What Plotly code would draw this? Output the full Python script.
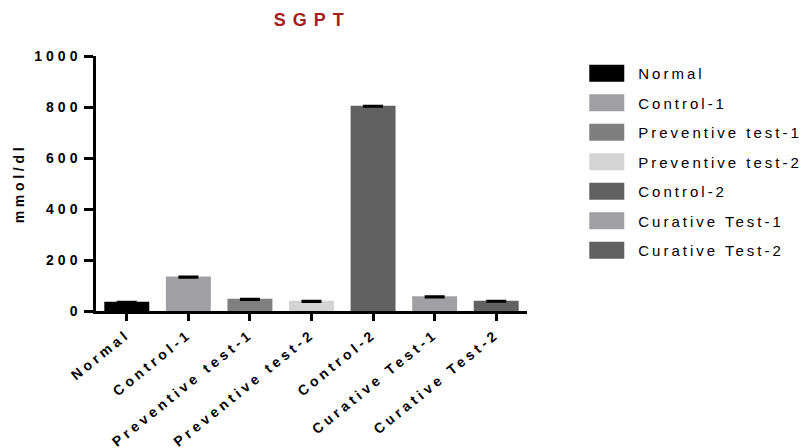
import plotly.graph_objects as go

categories = ["Normal", "Control-1", "Preventive test-1", "Preventive test-2",
              "Control-2", "Curative Test-1", "Curative Test-2"]
values = [36, 135, 48, 40, 805, 58, 40]
err_minus = [4, 5, 5, 5, 4, 5, 4]
colors = ["#000000", "#a0a0a4", "#7f7f7f", "#d4d4d4", "#616161", "#a0a0a4", "#616161"]
y_ticks = [0, 200, 400, 600, 800, 1000]

fig = go.Figure()
for c, v, e, col in zip(categories, values, err_minus, colors):
    fig.add_trace(go.Bar(
        x=[c], y=[v], name=c, marker=dict(color=col, line=dict(width=0)),
        width=0.73, legendgroup=c,
        error_y=dict(type="data", symmetric=False, array=[0], arrayminus=[e],
                     color="black", thickness=2, width=10),
    ))

font_family = "Liberation Sans, Arial, sans-serif"
fig.update_layout(
    width=809, height=448,
    barmode="overlay",
    plot_bgcolor="white", paper_bgcolor="white",
    margin=dict(l=96, r=282, t=56, b=137, autoexpand=False),
    title=dict(text="<b>SGPT</b>", x=0.386, xanchor="center", y=0.955, yanchor="middle",
               font=dict(family=font_family, size=18, color="#a51c1c")),
    font=dict(family=font_family, color="black"),
    legend=dict(x=1.112, y=0.996, xanchor="left", yanchor="top",
                font=dict(size=15, family=font_family), tracegroupgap=7,
                itemwidth=53, bgcolor="rgba(0,0,0,0)"),
    showlegend=True,
)
fig.update_xaxes(
    categoryorder="array", categoryarray=categories, range=[-0.5, 6.5],
    showline=True, linecolor="black", linewidth=2.5,
    ticks="outside", ticklen=7, tickwidth=2.5, tickcolor="black",
    tickangle=-39, tickfont=dict(size=14, family=font_family, weight="bold"),
    showgrid=False, zeroline=False,
)
fig.update_yaxes(
    range=[0, 1000], tickvals=y_ticks,
    showline=True, linecolor="black", linewidth=2.5,
    ticks="outside", ticklen=9, tickwidth=2.5, tickcolor="black",
    tickfont=dict(size=14, family=font_family, weight="bold"),
    title=dict(text="<b>mmol/dl</b>", font=dict(size=14, family=font_family), standoff=23),
    showgrid=False, zeroline=False,
)

post = """
(function(){
  document.body.style.margin = '0';
  var s = document.createElement('style');
  s.textContent = '.gtitle{letter-spacing:7px}' +
                  '.xtick text{letter-spacing:3.8px}' +
                  '.ytick text{letter-spacing:4px}' +
                  '.ytitle{letter-spacing:3.7px}' +
                  '.legendtext{letter-spacing:3px}';
  document.head.appendChild(s);
  var gd = document.getElementById('{plot_id}');
  function fix(){
    gd.querySelectorAll('.legend [clip-path]').forEach(function(e){ e.removeAttribute('clip-path'); });
    gd.querySelectorAll('.legend .legendpoints path').forEach(function(p){
      p.setAttribute('d', 'M17.5,8.5H-17.5V-8.5H17.5Z');
    });
  }
  fix();
  setTimeout(fix, 0);
  gd.on && gd.on('plotly_afterplot', fix);
})();
"""
fig.write_html("out.html", post_script=post, config={"displayModeBar": False})
